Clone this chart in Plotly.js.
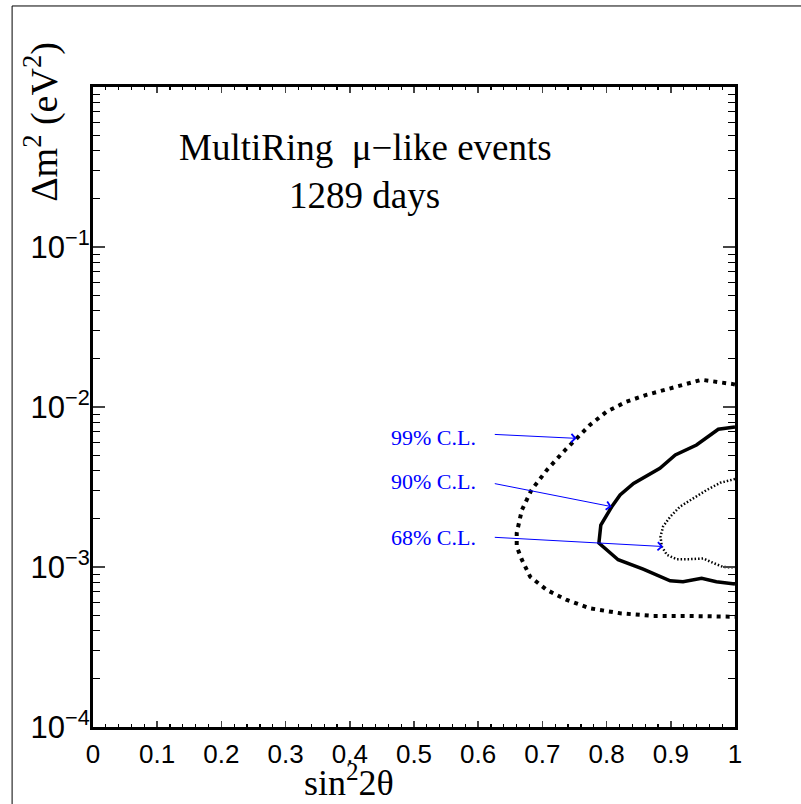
<!DOCTYPE html>
<html><head><meta charset="utf-8">
<script src="https://cdn.plot.ly/plotly-3.0.1.min.js"></script>
<style>html,body{margin:0;padding:0;background:#fff}#g{width:801px;height:804px}</style>
</head><body><div id="g"></div>
<script>
// 99% C.L. contour
var cl99_x = [1.000, 0.997, 0.948, 0.909, 0.862, 0.831, 0.800, 0.774, 0.753, 0.733, 0.707, 0.683, 0.668, 0.660, 0.660, 0.668, 0.681, 0.707, 0.738, 0.774, 0.821, 0.873, 0.925, 0.966, 1.000];
var cl99_y = [0.0138, 0.0139, 0.0148, 0.0134, 0.0119, 0.0108, 0.00935, 0.00772, 0.00637, 0.00526, 0.00404, 0.00303, 0.00227, 0.00163, 0.00134, 0.00111, 0.000869, 0.000718, 0.000622, 0.000552, 0.000514, 0.000494, 0.000494, 0.000489, 0.000489];
// 90% C.L. contour
var cl90_x = [1.000, 0.974, 0.940, 0.907, 0.883, 0.842, 0.821, 0.808, 0.791, 0.788, 0.818, 0.857, 0.899, 0.919, 0.948, 0.971, 1.000];
var cl90_y = [0.00750, 0.00726, 0.00579, 0.00501, 0.00414, 0.00333, 0.00282, 0.00238, 0.00183, 0.00141, 0.00111, 0.000969, 0.000820, 0.000809, 0.000849, 0.000809, 0.000783];
// 68% C.L. contour
var cl68_x = [1.000, 0.977, 0.956, 0.935, 0.914, 0.899, 0.888, 0.884, 0.886, 0.894, 0.909, 0.930, 0.951, 0.966, 0.982, 1.000];
var cl68_y = [0.00355, 0.00336, 0.00303, 0.00268, 0.00238, 0.00206, 0.00179, 0.00155, 0.00134, 0.00119, 0.00112, 0.00112, 0.00113, 0.00106, 0.00100, 0.000995];
// tick labels
var yTickVals = [1e-4, 1e-3, 1e-2, 1e-1];
var yTickText = ['10<sup>\u22124</sup>', '10<sup>\u22123</sup>', '10<sup>\u22122</sup>', '10<sup>\u22121</sup>'];
var clLabels = ['99% C.L.', '90% C.L.', '68% C.L.'];

var minorY = [];
for (var e = -4; e < 0; e++) for (var d = 2; d <= 9; d++) minorY.push(d * Math.pow(10, e));

var traces = [
  {x: cl99_x, y: cl99_y, mode: 'lines', line: {color: '#000', width: 4, dash: '4px,5px'}, hoverinfo: 'skip'},
  {x: cl90_x, y: cl90_y, mode: 'lines', line: {color: '#000', width: 3.5}, hoverinfo: 'skip'},
  {x: cl68_x, y: cl68_y, mode: 'lines', line: {color: '#000', width: 2.5, dash: '1.5px,2px'}, hoverinfo: 'skip'}
];

var serif = 'Liberation Serif, Times New Roman, serif';
var sans = 'Liberation Sans, Arial, sans-serif';
var blue = '#0000ff';
function arrow(tx, ty, ax, ay) {
  return {x: tx, y: ty, ax: ax, ay: ay, xref: 'x', yref: 'y', axref: 'x', ayref: 'y',
    text: '', showarrow: true, arrowhead: 4, arrowsize: 1.6, arrowwidth: 1, arrowcolor: blue};
}
function label(t, x, y) {
  return {x: x, y: y, xref: 'x', yref: 'y', text: t, showarrow: false, xanchor: 'right', yanchor: 'middle',
    font: {family: serif, size: 22, color: blue}};
}
function txt(t, x, y, size, angle) {
  return {xref: 'paper', yref: 'paper', x: x, y: y, text: t, showarrow: false, xanchor: 'center', yanchor: 'middle',
    textangle: angle || 0, font: {family: serif, size: size, color: '#000'}};
}

var layout = {
  width: 801, height: 804,
  margin: {l: 93, r: 66, t: 87, b: 77},
  paper_bgcolor: '#fff', plot_bgcolor: '#fff',
  showlegend: false,
  xaxis: {range: [0, 1], dtick: 0.1, tick0: 0, ticks: 'inside', ticklen: 6, tickwidth: 1.5,
    showline: true, linewidth: 3, linecolor: '#000', mirror: 'ticks', showgrid: false, zeroline: false,
    ticklabelstandoff: 2,
    tickfont: {family: sans, size: 26, color: '#000'},
    minor: {dtick: 0.02, ticks: 'inside', ticklen: 3, tickwidth: 1.2, tickcolor: '#000', showgrid: false}},
  yaxis: {type: 'log', range: [-4, 0], tickmode: 'array', tickvals: yTickVals, ticktext: yTickText,
    ticks: 'inside', ticklen: 12, tickwidth: 1.5, showline: true, linewidth: 3, linecolor: '#000', mirror: 'ticks',
    showgrid: false, zeroline: false, ticklabelstandoff: -6,
    tickfont: {family: sans, size: 31, color: '#000'},
    minor: {tickmode: 'array', tickvals: minorY, ticks: 'inside', ticklen: 7, tickwidth: 1.2, tickcolor: '#000', showgrid: false}},
  shapes: [
    {type: 'rect', xref: 'paper', yref: 'paper', x0: -0.126, y0: -1, x1: 2, y1: 1.1266,
      line: {color: '#000', width: 1}, fillcolor: 'rgba(0,0,0,0)', layer: 'below'}
  ],
  annotations: [
    txt('MultiRing  \u03bc\u2212like events', 0.425, 0.905, 37),
    txt('1289 days', 0.423, 0.831, 37),
    txt('\u0394m<sup>2</sup> (eV<sup>2</sup>)', -0.08, 0.945, 38, -90),
    txt('sin<sup>2</sup>2\u03b8', 0.399, -0.083, 36),
    arrow(0.7534, -2.196, 0.6235, -2.171),
    arrow(0.808, -2.623, 0.6235, -2.477),
    arrow(0.888, -2.872, 0.6235, -2.814),
    label(clLabels[0], 0.600, -2.1875),
    label(clLabels[1], 0.600, -2.465),
    label(clLabels[2], 0.600, -2.815)
  ]
};
Plotly.newPlot('g', traces, layout, {staticPlot: true});
</script></body></html>
